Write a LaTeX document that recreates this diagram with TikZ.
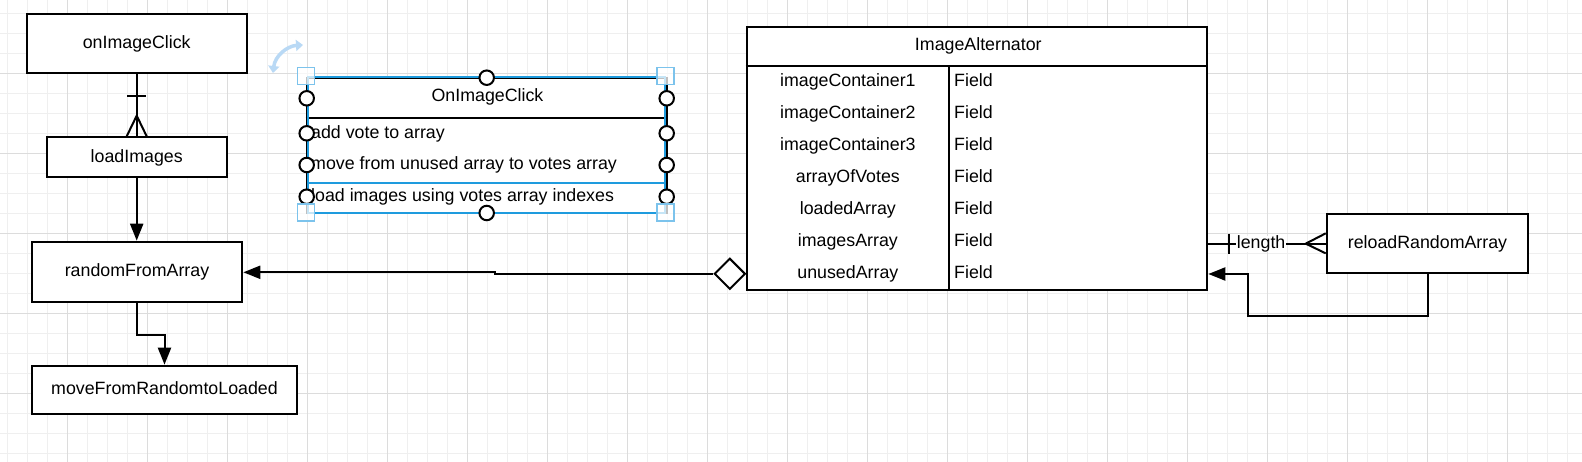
\documentclass[tikz,border=0pt]{standalone}
\usepackage{fontspec}
\setmainfont{Liberation Sans}
\usetikzlibrary{arrows.meta,shapes.geometric,calc}
\definecolor{gminor}{HTML}{EFEFEF}
\definecolor{gmajor}{HTML}{DCDCDC}
\definecolor{selblue}{HTML}{1E9BDE}
\definecolor{hdlblue}{HTML}{7CC3EC}
\definecolor{rotblue}{HTML}{B9D9F5}
\begin{document}
\begin{tikzpicture}[x=1pt,y=-1pt,
  txt/.style={font=\fontsize{17.8}{20}\selectfont, text height=12.7pt, text depth=3.2pt, inner sep=0pt},
  box/.style={txt, draw, line width=2pt, fill=white, align=center},
  plainbox/.style={draw, line width=2pt, fill=white, inner sep=0pt},
  conn/.style={line width=2pt},
  arr/.style={conn, -{Triangle[length=17pt,width=13pt]}},
  cpt/.style={circle, draw, fill=white, line width=2pt, minimum size=14.5pt, inner sep=0pt},
  hdl/.style={draw=hdlblue, fill=white, fill opacity=0.75, line width=1.5pt, minimum size=17pt, inner sep=0pt},
  gridminor/.style={gminor, line width=1pt},
  gridmajor/.style={gmajor, line width=1pt}]
\useasboundingbox (0,0) rectangle (1582,462);
\fill[white] (0,0) rectangle (1582,462);
% grid
\foreach \i in {0,...,78} \draw[gridminor] ({7.3+20*\i},0) -- ++(0,462);
\foreach \i in {0,...,22} \draw[gridminor] (0,{13.3+20*\i}) -- ++(1582,0);
\foreach \i in {0,...,18} \draw[gridmajor] ({67.3+80*\i},0) -- ++(0,462);
\foreach \i in {0,...,4} \draw[gridmajor] (0,{73.3+80*\i}) -- ++(1582,0);

% left column boxes
\node[box, minimum width=220pt, minimum height=59.3pt] (onclick) at (136.7,43.65) {onImageClick};
\node[box, minimum width=180pt, minimum height=40pt] (loadimg) at (136.7,157.3) {loadImages};
\node[box, minimum width=210.6pt, minimum height=60pt] (rfa) at (137,271.7) {randomFromArray};
\node[box, minimum width=265.6pt, minimum height=48.3pt] (movefrom) at (164.5,389.85) {moveFromRandomtoLoaded};

% ImageAlternator table
\node[plainbox, minimum width=460.6pt, minimum height=263.3pt] (ia) at (977,158.35) {};
\draw[conn] (ia.west |- 0,66) -- (ia.east |- 0,66);
\draw[conn] (949,66) -- (949,290);
\node[txt] (iatitle) at (978.3,45.9) {ImageAlternator};
\foreach \n [count=\i from 0] in {imageContainer1,imageContainer2,imageContainer3,arrayOfVotes,loadedArray,imagesArray,unusedArray}{
  \node[txt] (ian\i) at (847.85,{81.6+31.95*\i}) {\n};
  \node[txt, anchor=west] (iaf\i) at (954,{81.6+31.95*\i}) {Field};
}

% reloadRandomArray
\node[box, minimum width=201.6pt, minimum height=59.3pt] (reload) at (1427.5,243.65) {reloadRandomArray};

% OnImageClick class (selected)
\node[plainbox, minimum width=360pt, minimum height=135.6pt] (cls) at (486.7,145.5) {};
\draw[conn] (cls.west |- 0,117.7) -- (cls.east |- 0,117.7);
\draw[selblue, line width=2pt] (308.3,77.5) rectangle (665.2,213.3);
\draw[selblue, line width=2pt] (308.3,182.7) rectangle (665.2,213.3);
\node[txt] (clstitle) at (487.5,96.6) {OnImageClick};
\node[txt, anchor=west] (cr1) at (311,133.3) {add vote to array};
\node[txt, anchor=west] (cr2) at (311,164.9) {move from unused array to votes array};
\node[txt, anchor=west] (cr3) at (311,196.6) {load images using votes array indexes};
% connection points
\node[cpt] (cpt) at (486.7,77.7) {};
\node[cpt] (cpb) at (486.7,213) {};
\foreach \y [count=\k] in {98.3,133.3,165,196.7}{
  \node[cpt] (cpl\k) at (306.7,\y) {};
  \node[cpt] (cpr\k) at (666.7,\y) {};
}
% handles
\node[hdl] (h1) at (305.8,75.8) {};
\node[hdl] (h2) at (665.3,75.8) {};
\node[hdl] (h3) at (305.8,212.5) {};
\node[hdl] (h4) at (665.3,212.5) {};
% rotate icon
\draw[rotblue, line width=3.5pt, {Triangle[length=7pt,width=11pt]}-{Triangle[length=7pt,width=11pt]}] (273,73) .. controls (275,56) and (287,46) .. (303,45);

% connectors
\draw[conn] (onclick.south) -- (loadimg.north);
\draw[conn] ($(onclick.south)+(-9.5,21.7)$) -- ++(19,0);
\draw[conn] ($(loadimg.north)+(-10,0)$) -- ($(loadimg.north)+(0,-20.6)$) -- ($(loadimg.north)+(10,0)$);
\draw[arr] (loadimg.south) -- (loadimg.south |- rfa.north);
\draw[arr] (rfa.south) -- ++(0,32.3) -| (movefrom.north);

\node[diamond, draw, fill=white, line width=2pt, minimum width=31pt, minimum height=31pt, inner sep=0pt] (agg) at (729.8,273.8) {};
\coordinate (j1) at (495,272.3);
\draw[arr] (agg.west) -| (j1) -- (j1 -| rfa.east);

\draw[conn] (ia.east |- reload.west) -- node[txt, fill=white, inner xsep=1pt, pos=0.45] (lenlbl) {length} (reload.west);
\draw[conn] ($(ia.east |- reload.west)+(21,-10)$) -- ++(0,20);
\draw[conn] ($(reload.west)+(0,-10.3)$) -- ($(reload.west)+(-20,0)$) -- ($(reload.west)+(0,9.7)$);

\coordinate (j2) at (1248.3,274);
\draw[arr] (reload.south) -- ++(0,41.7) -| (j2) -- (j2 -| ia.east);
\end{tikzpicture}
\end{document}
